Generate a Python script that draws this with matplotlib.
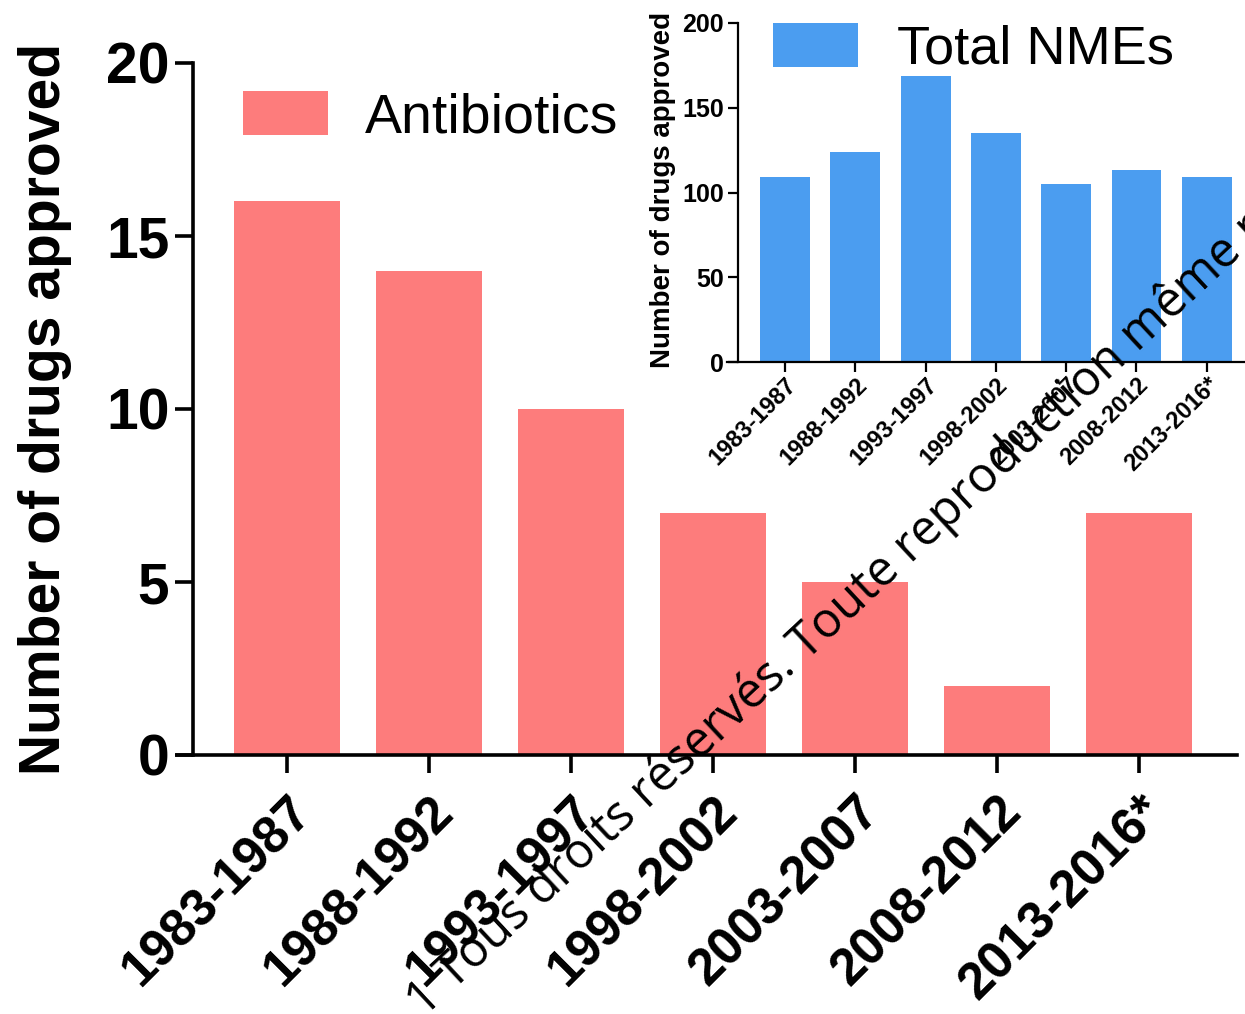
import numpy             as np
import matplotlib.pyplot as plt

plt.rcParams['font.family'] = ['Liberation Sans', 'DejaVu Sans']
plt.rcParams['font.weight'] = 'bold'

# data
periods      = ["1983-1987", "1988-1992", "1993-1997", "1998-2002",
                "2003-2007", "2008-2012", "2013-2016*"]
antibiotics  = [16, 14, 10, 7, 5, 2, 7]
total_nmes   = [109, 124, 169, 135, 105, 113, 109]

pink = "#fd7c7c"
blue = "#4b9df0"

W, H = 1245, 1014
fig = plt.figure(figsize=(W/100, H/100), dpi=100)

# main chart (antibiotics)
ax = fig.add_axes([177/W, 259/H, (1237-177)/W, 692/H])
x = np.arange(len(periods))
ax.bar(x, antibiotics, width=0.75, color=pink, label="Antibiotics")
ax.set_xlim(-0.775, 6.69)
ax.set_ylim(0, 20)
ax.set_yticks([0, 5, 10, 15, 20])
ax.set_xticks(x)
ax.set_xticklabels(periods, rotation=45, ha='right', rotation_mode='anchor',
                   fontsize=37, fontweight='bold')
ax.spines['top'].set_visible(False)
ax.spines['right'].set_visible(False)
ax.spines['left'].set_position(('data', -0.662))
ax.spines['left'].set_linewidth(2.6)
ax.spines['bottom'].set_linewidth(2.6)
ax.tick_params(axis='both', width=2.6, length=13)
ax.tick_params(axis='y', labelsize=41, pad=4)
ax.tick_params(axis='x', pad=10)
ax.set_ylabel("Number of drugs approved", fontsize=41, fontweight='bold')
ax.yaxis.set_label_coords(-0.099, 0.5)
ax.legend(loc='center left', bbox_to_anchor=(243/W, 1-118/H),
          bbox_transform=fig.transFigure, frameon=False,
          prop={'size': 40, 'weight': 'normal'},
          handlelength=1.53, handleheight=0.83, handletextpad=0.67,
          borderpad=0, borderaxespad=0)

# inset (total NMEs)
ins = fig.add_axes([727/W, 652/H, 523/W, 339/H])
ins.bar(x, total_nmes, width=0.71, color=blue, label="Total NMEs")
ins.set_xlim(-0.825, 6.615)
ins.set_ylim(0, 200)
ins.set_yticks([0, 50, 100, 150, 200])
ins.set_xticks(x)
ins.set_xticklabels(periods, rotation=45, ha='right', rotation_mode='anchor',
                    fontsize=17, fontweight='bold')
ins.spines['top'].set_visible(False)
ins.spines['right'].set_visible(False)
ins.spines['left'].set_position(('data', -0.67))
ins.spines['left'].set_linewidth(1.6)
ins.spines['bottom'].set_linewidth(1.6)
ins.tick_params(axis='both', width=1.6, length=7)
ins.tick_params(axis='y', labelsize=18, pad=3)
ins.tick_params(axis='x', pad=1)
ins.set_ylabel("Number of drugs approved", fontsize=20, fontweight='bold')
ins.yaxis.set_label_coords(-0.097, 0.507)
ins.legend(loc='center left', bbox_to_anchor=(773/W, 1-49/H),
           bbox_transform=fig.transFigure, frameon=False,
           prop={'size': 39, 'weight': 'normal'},
           handlelength=1.57, handleheight=0.87, handletextpad=0.72,
           borderpad=0, borderaxespad=0)

# copyright overlay text
fig.text(424/W, 1-1018/H,
         "1 Tous droits réservés. Toute reproduction même partielle interdite",
         rotation=43, fontsize=35, family=['Open Sans', 'DejaVu Sans'],
         fontweight='normal', color='black', ha='left', va='baseline',
         rotation_mode='anchor')

fig.savefig("out.png", dpi=100)
